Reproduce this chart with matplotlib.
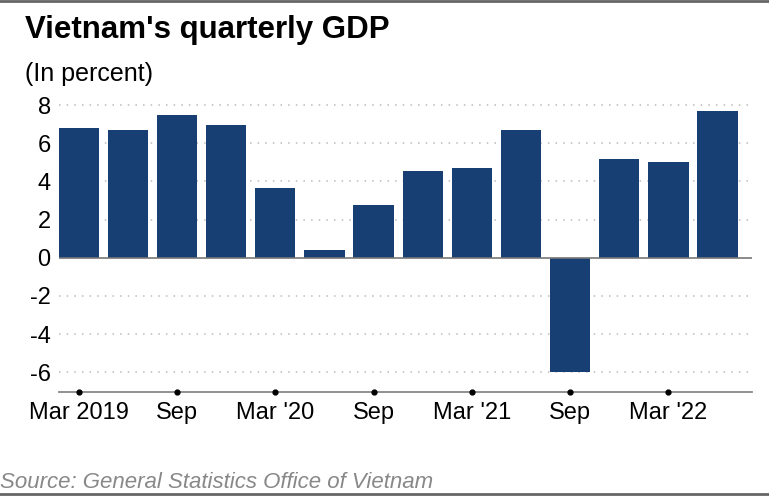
import matplotlib
matplotlib.use("Agg")
import matplotlib.pyplot as plt
from matplotlib.lines import Line2D

quarters = ["Mar 2019", "Jun 2019", "Sep 2019", "Dec 2019",
            "Mar 2020", "Jun 2020", "Sep 2020", "Dec 2020",
            "Mar 2021", "Jun 2021", "Sep 2021", "Dec 2021",
            "Mar 2022", "Jun 2022"]
gdp = [6.8, 6.7, 7.5, 6.97, 3.68, 0.39, 2.75, 4.55, 4.7, 6.7, -6.0, 5.2, 5.03, 7.72]
tick_labels = ["Mar 2019", "Sep", "Mar '20", "Sep", "Mar '21", "Sep", "Mar '22"]
yticks = [-6, -4, -2, 0, 2, 4, 6, 8]

plt.rcParams['font.family'] = ['Liberation Sans', 'DejaVu Sans']

fig = plt.figure(figsize=(7.69, 4.96), dpi=100)
ax = fig.add_axes([59 / 769, 1 - 392 / 496, (752 - 59) / 769, (392 - 99.5) / 496])

x = list(range(len(gdp)))
ax.bar(x, gdp, width=0.82, color="#173f73", zorder=3)

ax.set_xlim(-0.4, len(gdp) - 0.3)
ax.set_ylim(-7.04, 8.3)

for y in yticks:
    if y == 0:
        ax.axhline(0, color="#777777", lw=1.2, zorder=4)
    else:
        ax.axhline(y, color="#bbbbbb", lw=1.1, ls=(0, (1, 4)), zorder=1)

ax.set_yticks(yticks)
ax.set_yticklabels([str(v) for v in yticks], fontsize=17)
ax.set_xticks(x[::2])
ax.set_xticklabels(tick_labels, fontsize=17)
ax.tick_params(axis="y", length=0, pad=6)
ax.tick_params(axis="x", length=0, pad=7)
ax.plot(x[::2], [-7.04] * len(x[::2]), "o", color="black", ms=3.5,
        clip_on=False, zorder=5)

for s in ["top", "right", "left"]:
    ax.spines[s].set_visible(False)
ax.spines["bottom"].set_color("#888888")
ax.spines["bottom"].set_linewidth(1.3)

fig.text(25 / 769, 1 - 30 / 496, "Vietnam's quarterly GDP", fontsize=22.5,
         fontweight="bold", va="center", ha="left")
fig.text(25 / 769, 1 - 74 / 496, "(In percent)", fontsize=18,
         va="center", ha="left")
fig.text(0, 1 - 482 / 496, "Source: General Statistics Office of Vietnam",
         fontsize=16, style="italic", color="#888888", va="center", ha="left")

fig.add_artist(Line2D([0, 1], [1 - 1 / 496, 1 - 1 / 496], color="#666666", lw=2))
fig.add_artist(Line2D([0, 1], [1 - 494 / 496, 1 - 494 / 496], color="#666666", lw=2))

fig.savefig("out.png", dpi=100)
